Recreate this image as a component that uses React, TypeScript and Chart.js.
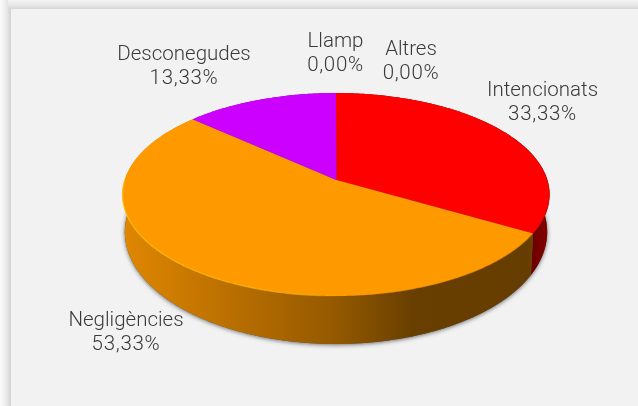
import React, { useEffect, useRef } from "react";
import { Chart, registerables } from "chart.js";

Chart.register(...registerables);

const categories = ["Intencionats", "Negligències", "Desconegudes", "Llamp", "Altres"];
const percentages = [33.33, 53.33, 13.33, 0, 0];
const percentLabels = ["33,33%", "53,33%", "13,33%", "0,00%", "0,00%"];
const colors = ["#ff0000", "#ff9900", "#cc00ff", "#3366cc", "#999999"];

const W = 638;
const H = 406;
const labelCenters = [
  [542.5, 91],
  [126, 321],
  [184, 55],
  [335.5, 42],
  [411, 50],
];
const CX = 336;
const K = -0.1429;
const TOP = { a: 211.3, ry: 73.7, c: 180 };
const BOTTOM = { a: 209, ry: 78.8, c: 216 };

function project(theta: number, f: { a: number; ry: number; c: number }) {
  const X = Math.sin(theta);
  const Y = -Math.cos(theta);
  const d = 1 + K * Y;
  return [CX + (f.a * X) / d, (f.ry * Y + f.c) / d];
}

function rgbShade(hex: string, s: number) {
  const n = parseInt(hex.slice(1), 16);
  return `rgb(${Math.round(((n >> 16) & 255) * s)},${Math.round(((n >> 8) & 255) * s)},${Math.round((n & 255) * s)})`;
}

function trace(ctx: CanvasRenderingContext2D, s: number, e: number, f: any, first: boolean) {
  const steps = Math.max(2, Math.ceil(Math.abs(e - s) / 0.01));
  for (let i = 0; i <= steps; i++) {
    const p = project(s + ((e - s) * i) / steps, f);
    if (first && i === 0) ctx.moveTo(p[0], p[1]);
    else ctx.lineTo(p[0], p[1]);
  }
}

const pie3d = {
  id: "pie3d",
  beforeDraw(chart: any) {
    const ctx = chart.ctx as CanvasRenderingContext2D;
    const gx = ctx.createLinearGradient(0, 0, 11, 0);
    gx.addColorStop(0, "#fbfbfb");
    gx.addColorStop(0.6, "#e9e9e9");
    gx.addColorStop(0.9, "#d6d6d6");
    gx.addColorStop(1, "#d6d6d6");
    ctx.fillStyle = gx;
    ctx.fillRect(0, 0, 11, H);
    const gy = ctx.createLinearGradient(0, 0, 0, 9);
    gy.addColorStop(0, "#f4f4f4");
    gy.addColorStop(0.6, "#e6e6e6");
    gy.addColorStop(1, "#d6d6d6");
    ctx.fillStyle = gy;
    ctx.fillRect(8, 0, W - 8, 9);
    ctx.fillStyle = "#f2f2f2";
    ctx.fillRect(11, 9, W - 11, H - 9);
  },
  beforeDatasetsDraw(chart: any) {
    const ctx = chart.ctx as CanvasRenderingContext2D;
    const arcs = chart.getDatasetMeta(0).data as any[];
    const range = arcs.map((a) => [a.startAngle + Math.PI / 2, a.endAngle + Math.PI / 2]);

    // soft shadow under the wall
    ctx.save();
    ctx.shadowColor = "rgba(0,0,0,0.55)";
    ctx.shadowBlur = 4;
    ctx.shadowOffsetY = 1;
    ctx.fillStyle = "#555";
    ctx.beginPath();
    trace(ctx, 0, Math.PI * 2, BOTTOM, true);
    ctx.closePath();
    ctx.fill();
    ctx.restore();

    // side walls
    const wallOrder = [0, 2, 1];
    wallOrder.forEach((i) => {
      const [s, e] = range[i];
      if (e - s <= 0) return;
      const g = ctx.createLinearGradient(122, 0, 549, 0);
      const stops: [number, number][] = [
        [0, 0.88],
        [0.2, 0.76],
        [0.5, 0.58],
        [0.68, 0.41],
        [0.95, 0.4],
        [1, 0.52],
      ];
      stops.forEach(([o, v]) => g.addColorStop(o, rgbShade(colors[i], v)));
      ctx.fillStyle = g;
      ctx.beginPath();
      trace(ctx, s, e, TOP, true);
      trace(ctx, e, s, BOTTOM, false);
      ctx.closePath();
      ctx.fill();
    });

    // top faces
    const apex = [CX + 0.4, TOP.c];
    arcs.forEach((_, i) => {
      const [s, e] = range[i];
      if (e - s <= 0) return;
      ctx.fillStyle = colors[i];
      ctx.beginPath();
      ctx.moveTo(apex[0], apex[1]);
      trace(ctx, s, e, TOP, false);
      ctx.closePath();
      ctx.fill();
    });

    // rim highlights along the front edge
    const [os, oe] = range[1];
    const rim = ctx.createLinearGradient(122, 0, 420, 0);
    rim.addColorStop(0, "rgba(255,190,20,0.9)");
    rim.addColorStop(0.6, "rgba(255,190,20,0.6)");
    rim.addColorStop(0.75, "rgba(255,190,20,0)");
    rim.addColorStop(1, "rgba(120,70,0,0.3)");
    ctx.strokeStyle = rim;
    ctx.lineWidth = 1.2;
    ctx.beginPath();
    trace(ctx, os, Math.min(oe, 4.72), TOP, true);
    ctx.stroke();
    ctx.strokeStyle = "rgba(120,0,0,0.3)";
    ctx.lineWidth = 1;
    ctx.beginPath();
    trace(ctx, 1.1, range[0][1], TOP, true);
    ctx.stroke();
    return false;
  },
  afterDraw(chart: any) {
    const ctx = chart.ctx as CanvasRenderingContext2D;
    ctx.save();
    ctx.fillStyle = "#3a3a3a";
    ctx.font = "300 20.5px Roboto";
    ctx.textAlign = "center";
    ctx.textBaseline = "middle";
    categories.forEach((c, i) => {
      const [x, y] = labelCenters[i];
      (ctx as any).letterSpacing = "0px";
      ctx.fillText(c, x, y);
      (ctx as any).letterSpacing = "0.7px";
      ctx.fillText(percentLabels[i], x, y + 24);
    });
    ctx.restore();
  },
};

export default function App() {
  const ref = useRef<HTMLCanvasElement>(null);
  useEffect(() => {
    const chart = new Chart(ref.current!, {
      type: "pie",
      data: {
        labels: categories,
        datasets: [{ data: percentages, backgroundColor: colors, borderWidth: 0 }],
      },
      options: {
        responsive: false,
        animation: false,
        plugins: { legend: { display: false }, tooltip: { enabled: false } },
      },
      plugins: [pie3d as any],
    });
    return () => chart.destroy();
  }, []);
  return (
    <div style={{ position: "fixed", left: 0, top: 0, width: W, height: H }}>
      <canvas ref={ref} width={W} height={H} style={{ display: "block" }} />
    </div>
  );
}
